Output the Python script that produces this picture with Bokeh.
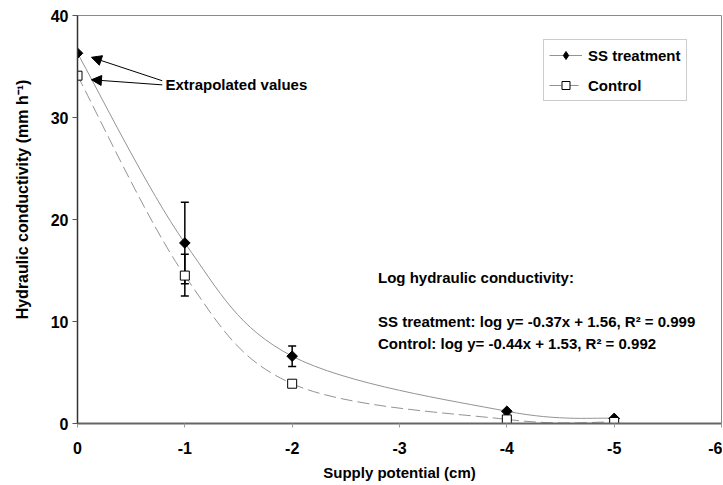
import math
from bokeh.plotting import figure
from bokeh.models import (Range1d, ColumnDataSource, Whisker, TeeHead, Arrow, NormalHead,
                          Legend, LegendItem, FixedTicker)
from bokeh.core.properties import value
from bokeh.embed import file_html
from bokeh.resources import INLINE

# ---- data ----
x_ss = [0, -1, -2, -4, -5]
y_ss = [36.3, 17.7, 6.6, 1.2, 0.5]
x_ctl = [0, -1, -2, -4, -5]
y_ctl = [34.1, 14.5, 3.9, 0.4, 0.15]

err_x_ss = [-1, -2]
err_lo_ss = [13.7, 5.6]
err_hi_ss = [21.7, 7.6]
err_x_ctl = [-1]
err_lo_ctl = [12.5]
err_hi_ctl = [16.6]

x_ticks = [0, -1, -2, -3, -4, -5, -6]
x_tick_labels = ["0", "-1", "-2", "-3", "-4", "-5", "-6"]
y_ticks = [0, 10, 20, 30, 40]

note_text = ["Log hydraulic conductivity:",
             "SS treatment: log y= -0.37x + 1.56, R\u00b2 = 0.999",
             "Control: log y= -0.44x + 1.53, R\u00b2 = 0.992"]
note_x = [-2.80, -2.80, -2.80]
note_y = [14.3, 10.0, 7.8]

extrap_label = "Extrapolated values"
extrap_label_x = -0.82
extrap_label_y = 33.2
arrow_start = [(-0.79, 33.6), (-0.79, 33.2)]
arrow_end = [(-0.13, 35.9), (-0.13, 33.7)]

y_title = "Hydraulic  conductivity (mm h\u207b\u00b9)"
x_title = "Supply potential (cm)"

FONT = "Liberation Sans"
CURVE = "#939393"
NAN = float("nan")


def smooth_bezier(xs, ys):
    """Excel-like smoothed-line Bezier segments through the data points."""
    n = len(xs)
    x0, y0, x1, y1, cx0, cy0, cx1, cy1 = ([] for _ in range(8))
    for i in range(n - 1):
        pm = i - 1 if i > 0 else i
        pp = i + 2 if i + 2 < n else i + 1
        x0.append(xs[i]); y0.append(ys[i])
        x1.append(xs[i + 1]); y1.append(ys[i + 1])
        cx0.append(xs[i] + (xs[i + 1] - xs[pm]) / 6.0)
        cy0.append(ys[i] + (ys[i + 1] - ys[pm]) / 6.0)
        cx1.append(xs[i + 1] - (xs[pp] - xs[i]) / 6.0)
        cy1.append(ys[i + 1] - (ys[pp] - ys[i]) / 6.0)
    return dict(x0=x0, y0=y0, x1=x1, y1=y1, cx0=cx0, cy0=cy0, cx1=cx1, cy1=cy1)


p = figure(width=722, height=484, output_backend="svg", toolbar_location=None,
           x_range=Range1d(0, -6), y_range=Range1d(0, 40),
           min_border_left=77, min_border_right=1, min_border_top=15, min_border_bottom=61)
p.background_fill_color = "white"
p.border_fill_color = "white"
p.grid.visible = False
p.outline_line_color = "#8a8a8a"
p.outline_line_width = 1

# axes
p.xaxis.ticker = FixedTicker(ticks=x_ticks)
p.xaxis.major_label_overrides = {t: s for t, s in zip(x_ticks, x_tick_labels)}
p.yaxis.ticker = FixedTicker(ticks=y_ticks)
for ax in (p.xaxis[0], p.yaxis[0]):
    ax.major_tick_in = 0
    ax.minor_tick_line_color = None
    ax.major_label_text_font = FONT
    ax.major_label_text_font_style = "bold"
    ax.major_label_text_font_size = "16px"
    ax.major_label_text_color = "black"
    ax.axis_label_text_font = FONT
    ax.axis_label_text_font_style = "bold"
    ax.axis_label_text_font_size = "15px"
    ax.axis_label_text_color = "black"
p.yaxis.axis_label_text_font_size = "16px"
p.yaxis.axis_line_color = "#333333"
p.yaxis.axis_line_width = 1.5
p.yaxis.major_tick_line_color = "#555555"
p.yaxis.major_tick_out = 5
p.xaxis.axis_line_color = "#666666"
p.xaxis.axis_line_width = 2
p.xaxis.major_tick_line_color = "#999999"
p.xaxis.major_tick_out = 4
p.xaxis.major_label_standoff = 14
p.yaxis.major_label_standoff = 4
p.xaxis.axis_label = x_title
p.xaxis.axis_label_standoff = 7
# leading no-break spaces lift the title above the frame centre, as in the reference
p.yaxis.axis_label = "\u00a0" * 10 + y_title
p.yaxis.axis_label_standoff = 17

# smoothed curves
ss_curve = p.bezier(source=ColumnDataSource(smooth_bezier(x_ss, y_ss)),
                    x0="x0", y0="y0", x1="x1", y1="y1", cx0="cx0", cy0="cy0",
                    cx1="cx1", cy1="cy1", line_color=CURVE, line_width=1)
ctl_curve = p.bezier(source=ColumnDataSource(smooth_bezier(x_ctl, y_ctl)),
                     x0="x0", y0="y0", x1="x1", y1="y1", cx0="cx0", cy0="cy0",
                     cx1="cx1", cy1="cy1", line_color=CURVE, line_width=1,
                     line_dash="12 5")

# error bars
for ex, lo, hi in ((err_x_ss, err_lo_ss, err_hi_ss), (err_x_ctl, err_lo_ctl, err_hi_ctl)):
    src = ColumnDataSource(dict(x=ex, lower=lo, upper=hi))
    w = Whisker(source=src, base="x", lower="lower", upper="upper",
                line_color="black", line_width=1.5,
                upper_head=TeeHead(size=8, line_color="black", line_width=1.5),
                lower_head=TeeHead(size=8, line_color="black", line_width=1.5))
    p.add_layout(w)

# markers
ss_pts = p.scatter(x_ss, y_ss, marker="square", angle=math.pi / 4, size=7.5,
                   fill_color="black", line_color="black")
ctl_pts = p.scatter(x_ctl, y_ctl, marker="square", size=9, fill_color="white",
                    line_color="black", line_width=1)

# legend-only diamond proxy (no visible data)
ss_leg_marker = p.scatter([NAN], [NAN], marker="diamond", size=12,
                          fill_color="black", line_color="black")

legend = Legend(items=[LegendItem(label="SS treatment", renderers=[ss_curve, ss_leg_marker]),
                       LegendItem(label="Control", renderers=[ctl_curve, ctl_pts])],
                location=(466, 322), orientation="vertical",
                border_line_color="#9a9a9a", border_line_width=1,
                background_fill_color="white", background_fill_alpha=1,
                label_text_font=FONT, label_text_font_style="bold",
                label_text_font_size="15px", label_text_color="black",
                glyph_width=33, glyph_height=20, label_height=20,
                spacing=10, padding=5, margin=0, label_standoff=6)
p.add_layout(legend)

# annotation arrows and text
for (xs_, ys_), (xe_, ye_) in zip(arrow_start, arrow_end):
    p.add_layout(Arrow(x_start=xs_, y_start=ys_, x_end=xe_, y_end=ye_,
                       line_color="black", line_width=1,
                       end=NormalHead(size=10, fill_color="black", line_color="black")))
p.text(x=[extrap_label_x], y=[extrap_label_y], text=[extrap_label],
       text_font=value(FONT), text_font_style="bold", text_font_size="15px",
       text_baseline="middle", text_align="left", text_color="black")
p.text(x=note_x, y=note_y, text=note_text,
       text_font=value(FONT), text_font_style="bold", text_font_size="15px",
       text_baseline="middle", text_align="left", text_color="black")

open("out.html", "w").write(file_html(p, INLINE))
